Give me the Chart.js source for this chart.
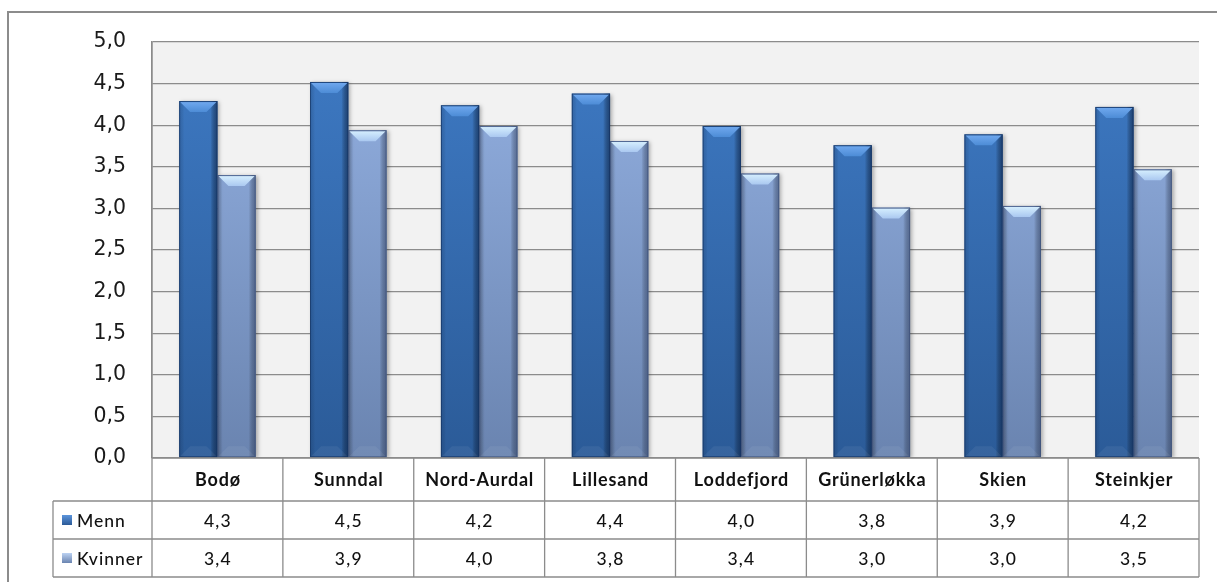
<!DOCTYPE html>
<html>
<head>
<meta charset="utf-8">
<script src="https://cdn.jsdelivr.net/npm/chart.js@4/dist/chart.umd.min.js"></script>
<style>
  html, body { margin: 0; padding: 0; background: #ffffff; }
  #wrap { position: relative; width: 1217px; height: 582px; }
</style>
</head>
<body>
<div id="wrap"><canvas id="c"></canvas></div>
<script>
const categories = ['Bodø', 'Sunndal', 'Nord-Aurdal', 'Lillesand', 'Loddefjord', 'Grünerløkka', 'Skien', 'Steinkjer'];
const mennValues = [4.29, 4.52, 4.24, 4.38, 3.99, 3.76, 3.89, 4.22];
const kvinnerValues = [3.40, 3.94, 3.99, 3.81, 3.42, 3.01, 3.03, 3.47];
const mennLabels = ['4,3', '4,5', '4,2', '4,4', '4,0', '3,8', '3,9', '4,2'];
const kvinnerLabels = ['3,4', '3,9', '4,0', '3,8', '3,4', '3,0', '3,0', '3,5'];
const seriesNames = ['Menn', 'Kvinner'];
const yTicks = [0, 0.5, 1, 1.5, 2, 2.5, 3, 3.5, 4, 4.5, 5];

const LINE = '#8c8c8c';
const styles = [
  { top: '#3e7ac4', bottom: '#2b5b98', edgeL: 'rgba(25,55,100,0.22)', edgeR: 'rgba(15,40,80,0.65)', bevTop: '#72aaf0', bevBot: '#4d8cd6', border: 'rgba(20,50,95,0.7)' },
  { top: '#94b1e2', bottom: '#6a84b0', edgeL: 'rgba(70,90,130,0.2)', edgeR: 'rgba(50,65,100,0.55)', bevTop: '#d8f1ff', bevBot: '#aac8f0', border: 'rgba(60,80,120,0.7)' }
];

function vGrad(chart, i) {
  const a = chart.chartArea;
  if (!a) return styles[i].top;
  const g = chart.ctx.createLinearGradient(0, a.top, 0, a.bottom);
  g.addColorStop(0, styles[i].top);
  g.addColorStop(1, styles[i].bottom);
  return g;
}

const bgPlugin = {
  id: 'bg',
  beforeDraw(chart) {
    const { ctx, chartArea: a } = chart;
    ctx.save();
    ctx.fillStyle = '#ffffff';
    ctx.fillRect(0, 0, chart.width, chart.height);
    ctx.strokeStyle = LINE;
    ctx.lineWidth = 2;
    ctx.beginPath();
    ctx.moveTo(8, chart.height + 2);
    ctx.lineTo(8, 12);
    ctx.lineTo(chart.width + 2, 12);
    ctx.stroke();
    ctx.fillStyle = '#f2f2f2';
    ctx.fillRect(a.left, a.top, a.right - a.left, a.bottom - a.top);
    ctx.restore();
  },
  beforeDatasetsDraw(chart) {
    const ctx = chart.ctx;
    ctx.save();
    ctx.shadowColor = 'rgba(0,0,0,0.3)';
    ctx.shadowBlur = 4;
    ctx.shadowOffsetX = 2;
    ctx.shadowOffsetY = 1;
  },
  afterDatasetsDraw(chart) {
    const ctx = chart.ctx;
    ctx.restore();
    ctx.save();
    chart.data.datasets.forEach((ds, di) => {
      const st = styles[di];
      const meta = chart.getDatasetMeta(di);
      meta.data.forEach(bar => {
        const p = bar.getProps(['x', 'y', 'base', 'width'], true);
        const l = p.x - p.width / 2, r = p.x + p.width / 2, t = p.y, b = p.base;
        const bev = 11;
        let g = ctx.createLinearGradient(l, 0, l + 5, 0);
        g.addColorStop(0, st.edgeL);
        g.addColorStop(1, 'rgba(0,0,0,0)');
        ctx.fillStyle = g;
        ctx.fillRect(l, t, 5, b - t);
        g = ctx.createLinearGradient(r - 7, 0, r, 0);
        g.addColorStop(0, 'rgba(0,0,0,0)');
        g.addColorStop(1, st.edgeR);
        ctx.fillStyle = g;
        ctx.fillRect(r - 7, t, 7, b - t);
        g = ctx.createLinearGradient(0, t, 0, t + bev);
        g.addColorStop(0, st.bevTop);
        g.addColorStop(1, st.bevBot);
        ctx.fillStyle = g;
        ctx.beginPath();
        ctx.moveTo(l + 1, t + 1);
        ctx.lineTo(r - 1, t + 1);
        ctx.lineTo(r - bev, t + bev);
        ctx.lineTo(l + bev, t + bev);
        ctx.closePath();
        ctx.fill();
        ctx.fillStyle = 'rgba(255,255,255,0.06)';
        ctx.beginPath();
        ctx.moveTo(l + 1, b - 1);
        ctx.lineTo(r - 1, b - 1);
        ctx.lineTo(r - bev, b - bev);
        ctx.lineTo(l + bev, b - bev);
        ctx.closePath();
        ctx.fill();
        ctx.strokeStyle = st.border;
        ctx.lineWidth = 1;
        ctx.strokeRect(l + 0.5, t + 0.5, r - l - 1, b - t - 1);
      });
    });
    ctx.restore();
  },
  afterDraw(chart) {
    const { ctx, chartArea: a } = chart;
    const xs = chart.scales.x;
    const n = categories.length;
    const catW = (a.right - a.left) / n;
    const hdrBottom = a.bottom + 43;
    const r1Bottom = hdrBottom + 38;
    const r2Bottom = r1Bottom + 38;
    const tableLeft = 53;
    ctx.save();
    ctx.strokeStyle = LINE;
    ctx.lineWidth = 1.3;
    ctx.beginPath();
    ctx.moveTo(a.left, a.bottom); ctx.lineTo(a.right, a.bottom);
    ctx.moveTo(tableLeft, hdrBottom); ctx.lineTo(a.right, hdrBottom);
    ctx.moveTo(tableLeft, r1Bottom); ctx.lineTo(a.right, r1Bottom);
    ctx.moveTo(tableLeft, r2Bottom); ctx.lineTo(a.right, r2Bottom);
    ctx.moveTo(tableLeft, hdrBottom); ctx.lineTo(tableLeft, r2Bottom);
    ctx.moveTo(a.left, a.top); ctx.lineTo(a.left, r2Bottom);
    for (let i = 0; i < n; i++) {
      const xr = xs.getPixelForValue(i) + catW / 2;
      ctx.moveTo(xr, a.bottom); ctx.lineTo(xr, r2Bottom);
    }
    ctx.stroke();

    ctx.fillStyle = '#111';
    ctx.textAlign = 'center';
    ctx.textBaseline = 'middle';
    ctx.letterSpacing = '0.8px';
    ctx.font = 'bold 18px Lato';
    categories.forEach((c, i) => {
      ctx.fillText(c, xs.getPixelForValue(i) + 0.5, (a.bottom + hdrBottom) / 2 + 1);
    });
    ctx.letterSpacing = '1.2px';
    ctx.font = '500 17.5px Lato';
    const rowsLbl = [mennLabels, kvinnerLabels];
    const rowMid = [(hdrBottom + r1Bottom) / 2 + 1, (r1Bottom + r2Bottom) / 2 + 1];
    rowsLbl.forEach((arr, ri) => {
      arr.forEach((v, i) => {
        ctx.fillText(v, xs.getPixelForValue(i) + 0.5, rowMid[ri]);
      });
    });
    ctx.textAlign = 'left';
    ctx.letterSpacing = '1px';
    seriesNames.forEach((s, ri) => {
      const ky = rowMid[ri] - 6;
      const g = ctx.createLinearGradient(0, ky, 0, ky + 10);
      g.addColorStop(0, ri === 0 ? '#5c95dc' : '#bcd2f2');
      g.addColorStop(1, ri === 0 ? '#2b5a97' : '#6a84b0');
      ctx.fillStyle = g;
      ctx.fillRect(62, ky, 10, 10);
      ctx.fillStyle = '#111';
      ctx.fillText(s, 77, rowMid[ri]);
    });
    ctx.restore();
  }
};

new Chart(document.getElementById('c'), {
  type: 'bar',
  data: {
    labels: categories,
    datasets: [
      { label: seriesNames[0], data: mennValues, backgroundColor: ctx => vGrad(ctx.chart, 0), borderWidth: 0 },
      { label: seriesNames[1], data: kvinnerValues, backgroundColor: ctx => vGrad(ctx.chart, 1), borderWidth: 0 }
    ]
  },
  options: {
    responsive: true,
    maintainAspectRatio: false,
    animation: false,
    layout: { padding: { left: 0, top: 42, right: 18, bottom: 124 } },
    datasets: { bar: { barPercentage: 1.0, categoryPercentage: 0.585 } },
    plugins: { legend: { display: false }, tooltip: { enabled: false } },
    scales: {
      x: { display: false },
      y: {
        min: 0, max: 5,
        afterBuildTicks: s => { s.ticks = yTicks.map(v => ({ value: v })); },
        afterFit: s => { s.width = 152; },
        ticks: {
          stepSize: 0.5,
          padding: 26,
          color: '#1a1a1a',
          font: { family: 'DejaVu Sans', size: 20.5 },
          callback: v => Number(v).toFixed(1).replace('.', ',')
        },
        grid: { color: LINE, lineWidth: 1.3, drawTicks: false },
        border: { color: LINE, width: 1.3 }
      }
    }
  },
  plugins: [bgPlugin]
});
</script>
</body>
</html>
